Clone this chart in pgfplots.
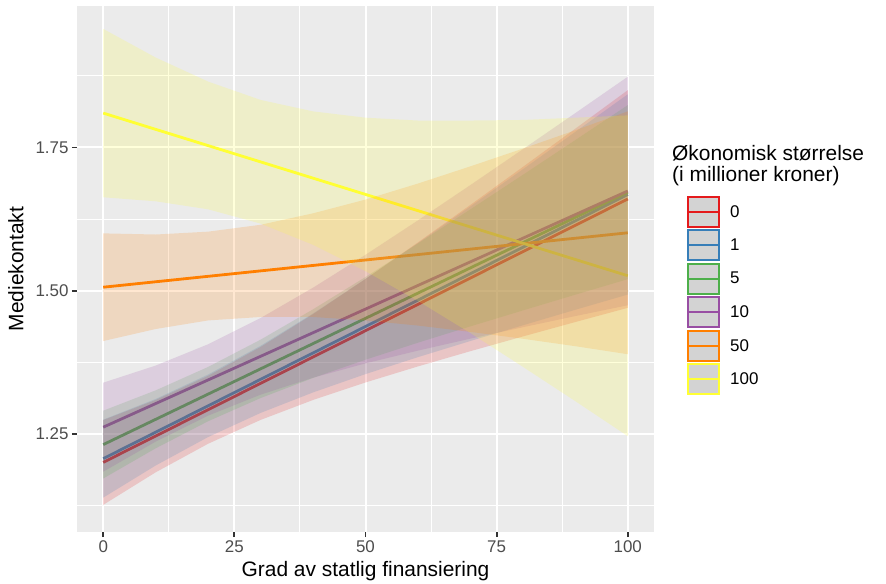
\documentclass[border=0pt]{standalone}
\usepackage{pgfplots}
\pgfplotsset{compat=1.18}
\usepackage{fontspec}
\setmainfont{Liberation Sans}
\definecolor{c0}{HTML}{E41A1C}
\definecolor{c1}{HTML}{377EB8}
\definecolor{c2}{HTML}{4DAF4A}
\definecolor{c3}{HTML}{984EA3}
\definecolor{c4}{HTML}{FF7F00}
\definecolor{c5}{HTML}{FFFF33}
\definecolor{panelbg}{HTML}{EBEBEB}
\definecolor{keygrey}{HTML}{D3D3D3}
\definecolor{ticklab}{HTML}{4D4D4D}
\definecolor{tickcol}{HTML}{333333}
\pgfplotsset{
  keybox/.style={legend image code/.code={
    \draw[draw=#1, line width=2bp, fill=keygrey] (1bp,-15bp) rectangle (32bp,15bp);
    \draw[draw=#1, line width=2bp] (1bp,0bp) -- (32bp,0bp);}},
  band/.style={draw=none, fill=#1, fill opacity=0.18, forget plot},
  fit/.style={draw=#1, line width=2.8bp, forget plot},
}
\begin{document}
\begin{tikzpicture}
\begin{axis}[
  scale only axis, width=577bp, height=526bp,
  xmin=-5, xmax=105, ymin=1.0786, ymax=1.997,
  axis background/.style={fill=panelbg},
  axis line style={draw=none},
  xtick={0,25,50,75,100},
  ytick={1.25,1.5,1.75}, yticklabels={1.25,1.50,1.75},
  extra x ticks={12.5,37.5,62.5,87.5}, extra x tick labels={},
  extra y ticks={1.125,1.375,1.625,1.875}, extra y tick labels={},
  extra tick style={major grid style={white, line width=1bp},
    major tick length=0bp, major tick style={draw=none}},
  grid=major,
  major grid style={white, line width=2bp},
  tick align=outside, tick pos=left,
  major tick length=5bp,
  major tick style={tickcol, line width=1.8bp},
  tick label style={font=\fontsize{17}{20}\selectfont, text=ticklab},
  /pgf/number format/assume math mode=true,
  xlabel={Grad av statlig finansiering},
  ylabel={Mediekontakt},
  xlabel style={at={(0.5,-0.056)}, anchor=north, inner sep=0pt},
  label style={font=\fontsize{21}{25}\selectfont},
  clip mode=individual,
  legend style={at={(1.0572,0.6394)}, anchor=north west, draw=none, fill=none,
    row sep=1.5bp, column sep=10bp, inner sep=0pt,
    font=\fontsize{17}{20}\selectfont,
    nodes={inner sep=0pt}},
  legend cell align=left,
]
% fitted lines
\addplot[fit=c0] coordinates {(0,1.2002) (100,1.660)};
\addplot[fit=c1] coordinates {(0,1.2067) (100,1.668)};
\addplot[fit=c2] coordinates {(0,1.2312) (100,1.672)};
\addplot[fit=c3] coordinates {(0,1.2616) (100,1.674)};
\addplot[fit=c4] coordinates {(0,1.506) (100,1.601)};
\addplot[fit=c5] coordinates {(0,1.810) (100,1.526)};
% confidence bands
\addplot[band=c0] coordinates {
 (0,1.126)(10,1.1828)(20,1.2327)(30,1.2743)(40,1.3091)(50,1.3397)(60,1.3677)(70,1.3943)(80,1.420)(90,1.4452)(100,1.470)
 (100,1.850)(90,1.7828)(80,1.716)(70,1.6497)(60,1.5843)(50,1.5203)(40,1.4589)(30,1.4017)(20,1.3513)(10,1.3092)(0,1.274)};
\addplot[band=c1] coordinates {
 (0,1.1386)(10,1.1947)(20,1.2444)(30,1.2865)(40,1.3223)(50,1.3543)(60,1.3839)(70,1.4121)(80,1.4395)(90,1.4666)(100,1.4932)
 (100,1.8428)(90,1.7772)(80,1.7119)(70,1.6471)(60,1.5831)(50,1.5205)(40,1.4601)(30,1.4037)(20,1.3536)(10,1.3109)(0,1.2748)};
\addplot[band=c2] coordinates {
 (0,1.1720)(10,1.2247)(20,1.2720)(30,1.3124)(40,1.3476)(50,1.3794)(60,1.4091)(70,1.4376)(80,1.4654)(90,1.4929)(100,1.5200)
 (100,1.8240)(90,1.7629)(80,1.7022)(70,1.6420)(60,1.5823)(50,1.5238)(40,1.4674)(30,1.4144)(20,1.3668)(10,1.3259)(0,1.2904)};
\addplot[band=c3] coordinates {
 (0,1.1839)(10,1.2364)(20,1.2818)(30,1.3184)(40,1.3480)(50,1.3730)(60,1.3953)(70,1.4162)(80,1.4361)(90,1.4556)(100,1.4745)
 (100,1.8735)(90,1.8100)(80,1.7469)(70,1.6844)(60,1.6227)(50,1.5626)(40,1.5052)(30,1.4522)(20,1.4064)(10,1.3692)(0,1.3393)};
\addplot[band=c4] coordinates {
 (0,1.412)(10,1.433)(20,1.448)(30,1.454)(40,1.454)(50,1.448)(60,1.439)(70,1.428)(80,1.416)(90,1.403)(100,1.389)
 (100,1.813)(90,1.780)(80,1.748)(70,1.717)(60,1.687)(50,1.659)(40,1.635)(30,1.615)(20,1.603)(10,1.598)(0,1.600)};
\addplot[band=c5] coordinates {
 (0,1.663)(10,1.656)(20,1.642)(30,1.617)(40,1.580)(50,1.534)(60,1.482)(70,1.426)(80,1.367)(90,1.307)(100,1.246)
 (100,1.806)(90,1.802)(80,1.798)(70,1.797)(60,1.797)(50,1.802)(40,1.813)(30,1.833)(20,1.865)(10,1.907)(0,1.957)};
% legend
\addlegendimage{keybox=c0}\addlegendentry{0}
\addlegendimage{keybox=c1}\addlegendentry{1}
\addlegendimage{keybox=c2}\addlegendentry{5}
\addlegendimage{keybox=c3}\addlegendentry{10}
\addlegendimage{keybox=c4}\addlegendentry{50}
\addlegendimage{keybox=c5}\addlegendentry{100}
\node[anchor=north west, align=left, inner sep=0pt, font=\fontsize{21}{21}\selectfont]
  at (rel axis cs:1.0312,0.7357) {Økonomisk størrelse\\(i millioner kroner)};
\coordinate (O) at (rel axis cs:0,0);
\end{axis}
\pgfresetboundingbox
\path (O) ++(-77bp,-52bp) rectangle ++(886bp,584bp);
\end{tikzpicture}
\end{document}
